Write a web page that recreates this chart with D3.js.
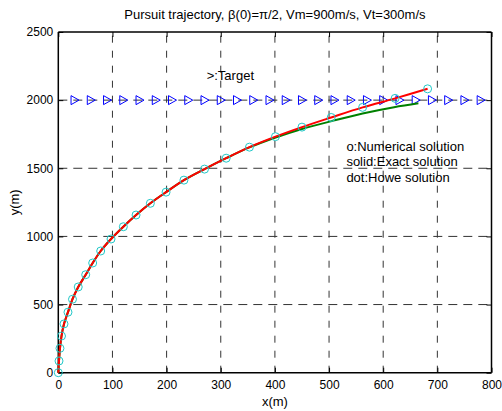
<!DOCTYPE html>
<html><head><meta charset="utf-8">
<script src="https://cdn.jsdelivr.net/npm/d3@7"></script>
<style>body{margin:0;background:#fff}svg{display:block}text{font-family:"Liberation Sans",Arial,sans-serif;fill:#000}</style>
</head><body>
<svg id="c" width="502" height="411"></svg>
<script>
// Numerical solution (circles) — also traced by the exact solution (red)
const numX = [0,1.3,3.1,5.9,10.5,17.9,26.2,36.8,50.6,63.5,78.3,97.4,120.1,143.6,170,199,232,270,310,353,401,450,504,562,622,682];
const numY = [0,86,179,269,358,444,539,629,719,805,893,981,1071,1157,1243,1325,1413,1494,1574,1655,1732,1802,1873,1947,2013,2083];
// Howe solution (green)
const howeX = [0,1.3,3.1,5.9,10.5,17.9,26.2,36.8,50.6,63.5,78.3,97.4,120.1,143.6,170,199,232,270,310,353,400,450,505,562,620,665];
const howeY = [0,86,179,269,358,444,539,629,719,805,893,981,1071,1157,1243,1325,1413,1494,1574,1653,1724,1788,1846,1902,1948,1977];
// Target positions
const targetX = [30,60,90,120,150,180,210,240,270,300,330,360,390,420,450,480,510,540,570,600,630,660,690,720,750,780];
const targetY = 2000;
const xTicks = [0,100,200,300,400,500,600,700,800];
const yTicks = [0,500,1000,1500,2000,2500];

const svg = d3.select("#c");
const L = 58.3, R = 491.5, T = 32, B = 372.7;
const x = d3.scaleLinear().domain([0,800]).range([L,R]);
const y = d3.scaleLinear().domain([0,2500]).range([B,T]);

// grid
const g = svg.append("g");
g.selectAll(".gx").data(xTicks.slice(1,-1)).enter().append("line")
  .attr("x1",d=>x(d)).attr("x2",d=>x(d)).attr("y1",B).attr("y2",T)
  .attr("stroke","#333").attr("stroke-width",1).attr("stroke-dasharray","7,8");
g.selectAll(".gy").data(yTicks.slice(1,-1)).enter().append("line")
  .attr("y1",d=>y(d)).attr("y2",d=>y(d)).attr("x1",L).attr("x2",R)
  .attr("stroke","#333").attr("stroke-width",1).attr("stroke-dasharray","9,6");

// axes
const ax = svg.append("g").attr("transform",`translate(0,${B})`)
  .call(d3.axisBottom(x).tickValues(xTicks).tickSize(-5).tickPadding(8).tickFormat(d3.format("d")));
const axT = svg.append("g").attr("transform",`translate(0,${T})`)
  .call(d3.axisTop(x).tickValues(xTicks).tickSize(-5).tickFormat(""));
const ay = svg.append("g").attr("transform",`translate(${L},0)`)
  .call(d3.axisLeft(y).tickValues(yTicks).tickSize(-5).tickPadding(5).tickFormat(d3.format("d")));
const ayR = svg.append("g").attr("transform",`translate(${R},0)`)
  .call(d3.axisRight(y).tickValues(yTicks).tickSize(-5).tickFormat(""));
[ax,axT,ay,ayR].forEach(a=>{
  a.select(".domain").attr("stroke","#000").attr("stroke-width",1.5);
  a.selectAll(".tick line").attr("stroke","#000");
  a.selectAll(".tick text").style("font-size","12px").style("font-family","Liberation Sans, Arial, sans-serif").attr("fill","#000");
});
ax.select(".domain").attr("d",`M${L},0H${R}`);
axT.select(".domain").attr("d",`M${L},0H${R}`);
ay.select(".domain").attr("d",`M0,${B}V${T}`);
ayR.select(".domain").attr("d",`M0,${B}V${T}`);

// target markers
const tri = d3.symbol().type(d3.symbolTriangle);
svg.append("g").selectAll("path").data(targetX).enter().append("path")
  .attr("d","M-3.5,-4.5L4.5,0L-3.5,4.5Z")
  .attr("transform",d=>`translate(${x(d)},${y(targetY)})`)
  .attr("fill","none").attr("stroke","#0000ff").attr("stroke-width",1);

// Howe solution
const howe = d3.range(howeX.length).map(i=>[howeX[i],howeY[i]]);
const num = d3.range(numX.length).map(i=>[numX[i],numY[i]]);
const line = d3.line().x(d=>x(d[0])).y(d=>y(d[1])).curve(d3.curveCatmullRom);
svg.append("path").attr("d",line(howe)).attr("fill","none").attr("stroke","#008000").attr("stroke-width",2);
svg.append("path").attr("d",line(num)).attr("fill","none").attr("stroke","#ff0000").attr("stroke-width",2);

// circles
svg.append("g").selectAll("circle").data(num).enter().append("circle")
  .attr("cx",d=>x(d[0])).attr("cy",d=>y(d[1])).attr("r",4)
  .attr("fill","none").attr("stroke","#22c8c8").attr("stroke-width",1);

// texts
svg.append("text").attr("x",(L+R)/2).attr("y",19).attr("text-anchor","middle").style("font-size","13px")
  .text("Pursuit trajectory, β(0)=π/2, Vm=900m/s, Vt=300m/s");
svg.append("text").attr("x",(L+R)/2).attr("y",406).attr("text-anchor","middle").style("font-size","13px").text("x(m)");
svg.append("text").attr("transform",`translate(19,${(T+B)/2}) rotate(-90)`).attr("text-anchor","middle").style("font-size","13px").text("y(m)");
const ann = [[274,2180,">:Target"],[532,1663,"o:Numerical solution"],[532,1553,"solid:Exact solution"],[532,1431,"dot:Howe solution"]];
svg.append("g").selectAll("text").data(ann).enter().append("text")
  .attr("x",d=>x(d[0])).attr("y",d=>y(d[1])).attr("dy","0.35em").style("font-size","13px").text(d=>d[2]);
</script>
</body></html>
